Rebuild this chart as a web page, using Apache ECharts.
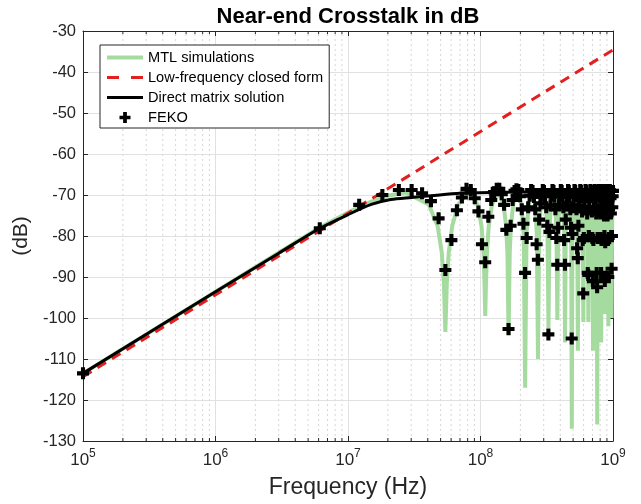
<!DOCTYPE html>
<html>
<head>
<meta charset="utf-8">
<script src="https://cdn.jsdelivr.net/npm/echarts@6.0.0/dist/echarts.min.js"></script>
<style>html,body{margin:0;padding:0;background:#fff}#chart{width:641px;height:504px}</style>
</head>
<body>
<div id="chart"></div>
<script>
'use strict';
// MTL simulation curve (Hz, dB)
var mtlFreq = [
  1e5, 1e6, 3e6, 6e6, 1e7, 1.5e7, 2e7, 2.715e7,
  4.07e7, 4.75e7, 5.1e7, 5.29e7, 5.43e7, 5.57e7, 5.76e7, 6.11e7, 6.79e7, 8.15e7,
  9.5e7, 1.018e8, 1.053e8, 1.072e8, 1.086e8, 1.1e8, 1.119e8, 1.154e8, 1.222e8, 1.358e8,
  1.493e8, 1.561e8, 1.596e8, 1.629e8, 1.662e8, 1.697e8, 1.765e8, 1.901e8,
  2.036e8, 2.118e8, 2.172e8, 2.226e8, 2.308e8, 2.444e8,
  2.579e8, 2.661e8, 2.715e8, 2.769e8, 2.851e8, 2.987e8,
  3.122e8, 3.204e8, 3.258e8, 3.312e8, 3.394e8, 3.53e8,
  3.665e8, 3.747e8, 3.801e8, 3.855e8, 3.937e8, 4.073e8,
  4.208e8, 4.29e8, 4.344e8, 4.398e8, 4.48e8, 4.616e8,
  4.751e8, 4.833e8, 4.887e8, 4.941e8, 5.023e8, 5.159e8,
  5.294e8, 5.376e8, 5.43e8, 5.484e8, 5.566e8, 5.702e8,
  5.837e8, 5.919e8, 5.973e8, 6.027e8, 6.109e8, 6.245e8,
  6.38e8, 6.462e8, 6.516e8, 6.57e8, 6.652e8, 6.788e8,
  6.923e8, 7.005e8, 7.059e8, 7.113e8, 7.195e8, 7.331e8,
  7.466e8, 7.548e8, 7.602e8, 7.656e8, 7.738e8, 7.874e8,
  8.009e8, 8.091e8, 8.145e8, 8.199e8, 8.281e8, 8.417e8,
  8.552e8, 8.634e8, 8.688e8, 8.742e8, 8.824e8, 8.96e8,
  9.095e8, 9.177e8, 9.231e8, 9.285e8, 9.367e8, 9.503e8,
  9.638e8, 9.72e8, 9.774e8, 9.828e8, 9.91e8, 1e9
];
var mtlDb = [
  -113.5, -93.6, -84.1, -78.1, -74.3, -71.6, -70.2, -69.4,
  -72.3, -77.6, -84, -91.5, -103.4, -91.5, -84, -77.6, -72.3, -69.3,
  -72.3, -77.6, -84, -91.5, -99.5, -91.5, -84, -77.6, -72.3, -69.3,
  -72.3, -77.6, -84, -104.4, -84, -77.6, -72.3, -69.3,
  -72.3, -79.5, -117, -79.5, -72.3, -69.3,
  -72.3, -79.5, -110, -79.5, -72.3, -69.3,
  -72.3, -79.5, -102.5, -79.5, -72.3, -69.3,
  -72.3, -79.5, -100.5, -79.5, -72.3, -69.3,
  -72.3, -79.5, -106, -79.5, -72.3, -69.3,
  -72.3, -79.5, -127, -79.5, -72.3, -69.3,
  -72.3, -79.5, -108, -79.5, -72.3, -69.3,
  -72.3, -79.5, -101, -79.5, -72.3, -69.3,
  -72.3, -79.5, -101, -79.5, -72.3, -69.3,
  -72.3, -79.5, -108, -79.5, -72.3, -69.3,
  -72.3, -79.5, -126, -79.5, -72.3, -69.3,
  -72.3, -79.5, -106, -79.5, -72.3, -69.3,
  -72.3, -79.5, -99, -79.5, -72.3, -69.3,
  -72.3, -79.5, -102, -79.5, -72.3, -69.3,
  -72.3, -79.5, -100, -79.5, -72.3, -70.8
];

// low-frequency closed form (straight line on log axis)
var lfFreq = [1e5, 1e9];
var lfDb = [-114.3, -34.6];

// direct matrix solution
var dmFreq = [1e5, 1e6, 3e6, 6e6, 1e7, 1.5e7, 2.1e7, 3e7, 4.2e7, 7e7, 1.5e8, 1e9];
var dmDb = [-113.5, -93.6, -84.2, -78.3, -74.8, -72.3, -71.1, -70.6, -70.2, -69.6, -69.3, -69.1];

// FEKO samples, linear sweep 1e5 .. 1e9 Hz
var fekoStart = 1e5;
var fekoStep = 6.0235e6;
var fekoDb = [
  -113.5, -78.1, -72.4, -70, -68.8, -68.8, -69.6, -71.5, -75.7, -88.3,
  -81, -73.7, -70.6, -68.5, -68.8, -70.8, -74, -82, -86.4, -75.3,
  -71.2, -69.3, -68.5, -68.5, -69.8, -72.4, -78.5, -102.7, -77.5, -71.2,
  -69, -68.6, -68.8, -70.3, -73.5, -77, -89, -80.5, -73, -70.2,
  -68.8, -69, -70.5, -73.5, -82, -85.8, -76, -72, -70, -68.8,
  -69, -70.3, -73, -77.5, -104, -79, -72.5, -70, -68.8, -69,
  -70.4, -73.5, -80.5, -87, -78, -72.4, -70, -68.8, -69, -70.3,
  -73, -81, -87, -76, -72.5, -70, -68.8, -69, -70.5, -73.5,
  -78, -105, -79.5, -73, -70.2, -68.8, -69, -70.4, -73.5, -83,
  -85.4, -77.5, -72.5, -70, -68.8, -69, -70.5, -74, -81, -94,
  -80.5, -72.8, -70, -68.8, -69, -70.6, -74.5, -89, -89.5, -80,
  -73, -70.2, -68.8, -69, -70.5, -74, -80.5, -91, -81, -73,
  -70, -68.8, -69, -70.8, -74.5, -89, -92.5, -80.5, -73.5, -70.2,
  -68.8, -69, -70.6, -74.5, -80.5, -89, -81, -73, -70, -68.8,
  -69, -70.8, -75, -80, -91, -81.5, -73, -70.3, -68.8, -69,
  -71, -75, -81, -90, -80.5, -73.5, -70.3, -68.8, -69, -70.8,
  -74.5, -80, -88, -80, -73, -70.3, -69
];

var yTicks = { min: -130, max: -30, step: 10 };
var decades = [5, 6, 7, 8, 9];

function zip(xs, ys) {
  var out = [];
  for (var i = 0; i < xs.length; i++) {
    out.push([xs[i], ys[i]]);
  }
  return out;
}

var fekoData = [];
for (var i = 0; i < fekoDb.length; i++) {
  fekoData.push([fekoStart + fekoStep * i, fekoDb[i]]);
}

// minor log ticks 2..9 in each decade
var minorData = [];
for (var d = 0; d < decades.length - 1; d++) {
  for (var m = 2; m <= 9; m++) {
    minorData.push([m * Math.pow(10, decades[d]), 0]);
  }
}

var axisColor = '#262626';
var font = "'Liberation Sans', Arial, Helvetica, sans-serif";
var plusPath = 'path://M3.3,0H6.7V3.3H10V6.7H6.7V10H3.3V6.7H0V3.3H3.3Z';
var green = '#a6dba0';
var red = '#e41f1f';

var myChart = echarts.init(document.getElementById('chart'));
var option = {
  animation: false,
  backgroundColor: '#fff',
  textStyle: { fontFamily: font },
  title: {
    text: 'Near-end Crosstalk in dB',
    left: 343,
    textAlign: 'center',
    top: 1,
    textStyle: { fontSize: 22, fontWeight: 'bold', color: '#000', fontFamily: font }
  },
  grid: { left: 83, right: 28, top: 31, bottom: 63, containLabel: false },
  legend: {
    orient: 'vertical',
    left: 100,
    top: 45,
    padding: [5, 6, 3, 5],
    itemWidth: 36,
    itemHeight: 11,
    itemGap: 5,
    backgroundColor: '#fff',
    borderColor: axisColor,
    borderWidth: 1,
    borderRadius: 0,
    textStyle: { fontSize: 14.6, color: '#000', fontFamily: font },
    data: [
      { name: 'MTL simulations', itemStyle: { opacity: 0 }, lineStyle: { color: green, width: 4 } },
      { name: 'Low-frequency closed form', itemStyle: { opacity: 0 }, lineStyle: { color: red, width: 3, type: [12, 12] } },
      { name: 'Direct matrix solution', itemStyle: { opacity: 0 }, lineStyle: { color: '#000', width: 3 } },
      { name: 'FEKO', icon: plusPath, itemStyle: { color: '#000', opacity: 1 } }
    ]
  },
  xAxis: [
    {
      type: 'log',
      logBase: 10,
      min: 1e5,
      max: 1e9,
      splitNumber: 4,
      position: 'bottom',
      name: 'Frequency (Hz)',
      nameLocation: 'middle',
      nameGap: 35,
      nameTextStyle: { fontSize: 23, color: axisColor, fontFamily: font },
      axisLine: { show: true, lineStyle: { color: axisColor, width: 1 } },
      axisTick: { show: true, inside: true, length: 5, lineStyle: { color: axisColor } },
      axisLabel: {
        margin: 7,
        formatter: function (v) {
          return '{b|10}{s|' + Math.round(Math.log10(v)) + '}';
        },
        rich: {
          b: { fontSize: 17, color: axisColor, fontFamily: font, verticalAlign: 'bottom' },
          s: { fontSize: 12, color: axisColor, fontFamily: font, verticalAlign: 'bottom', padding: [0, 0, 9, 0] }
        }
      },
      splitLine: { show: true, lineStyle: { color: '#e1e1e1', width: 1 } }
    },
    {
      type: 'log',
      logBase: 10,
      min: 1e5,
      max: 1e9,
      splitNumber: 4,
      position: 'top',
      axisLine: { show: true, lineStyle: { color: axisColor, width: 1 } },
      axisTick: { show: true, inside: true, length: 5, lineStyle: { color: axisColor } },
      axisLabel: { show: false },
      splitLine: { show: false }
    }
  ],
  yAxis: [
    {
      type: 'value',
      min: yTicks.min,
      max: yTicks.max,
      interval: yTicks.step,
      name: '(dB)',
      nameLocation: 'middle',
      nameGap: 45,
      nameTextStyle: { fontSize: 21, color: axisColor, fontFamily: font },
      axisLine: { show: true, lineStyle: { color: axisColor, width: 1 } },
      axisTick: { show: true, inside: true, length: 5, lineStyle: { color: axisColor } },
      axisLabel: { fontSize: 16.5, color: axisColor, margin: 7, fontFamily: font },
      splitLine: { show: true, lineStyle: { color: '#e1e1e1', width: 1 } }
    },
    {
      type: 'value',
      position: 'right',
      min: yTicks.min,
      max: yTicks.max,
      interval: yTicks.step,
      axisLine: { show: true, lineStyle: { color: axisColor, width: 1 } },
      axisTick: { show: true, inside: true, length: 5, lineStyle: { color: axisColor } },
      axisLabel: { show: false },
      splitLine: { show: false }
    }
  ],
  series: [
    {
      // minor grid lines + minor ticks on the log axis
      name: 'minor',
      type: 'custom',
      z: 1,
      silent: true,
      data: minorData,
      renderItem: function (params, api) {
        var f = api.value(0);
        var b = api.coord([f, yTicks.min]);
        var t = api.coord([f, yTicks.max]);
        return {
          type: 'group',
          children: [
            { type: 'line', shape: { x1: b[0], y1: b[1], x2: t[0], y2: t[1] },
              style: { stroke: '#d6d6d6', lineWidth: 1, lineDash: [2, 3] } },
            { type: 'line', shape: { x1: b[0], y1: b[1], x2: b[0], y2: b[1] - 3 },
              style: { stroke: axisColor, lineWidth: 1 } },
            { type: 'line', shape: { x1: t[0], y1: t[1], x2: t[0], y2: t[1] + 3 },
              style: { stroke: axisColor, lineWidth: 1 } }
          ]
        };
      }
    },
    {
      name: 'MTL simulations',
      type: 'line',
      z: 2,
      data: zip(mtlFreq, mtlDb),
      showSymbol: false,
      symbol: 'none',
      lineStyle: { color: green, width: 4 },
      itemStyle: { color: green }
    },
    {
      name: 'Low-frequency closed form',
      type: 'line',
      z: 3,
      data: zip(lfFreq, lfDb),
      showSymbol: false,
      symbol: 'none',
      lineStyle: { color: red, width: 3, type: [10, 7] },
      itemStyle: { color: red }
    },
    {
      name: 'Direct matrix solution',
      type: 'line',
      z: 4,
      data: zip(dmFreq, dmDb),
      showSymbol: false,
      symbol: 'none',
      smooth: 0.3,
      lineStyle: { color: '#000', width: 3 },
      itemStyle: { color: '#000' }
    },
    {
      name: 'FEKO',
      type: 'scatter',
      z: 5,
      data: fekoData,
      symbol: plusPath,
      symbolSize: 12,
      itemStyle: { color: '#000', opacity: 1 }
    }
  ]
};
myChart.setOption(option);
</script>
</body>
</html>
